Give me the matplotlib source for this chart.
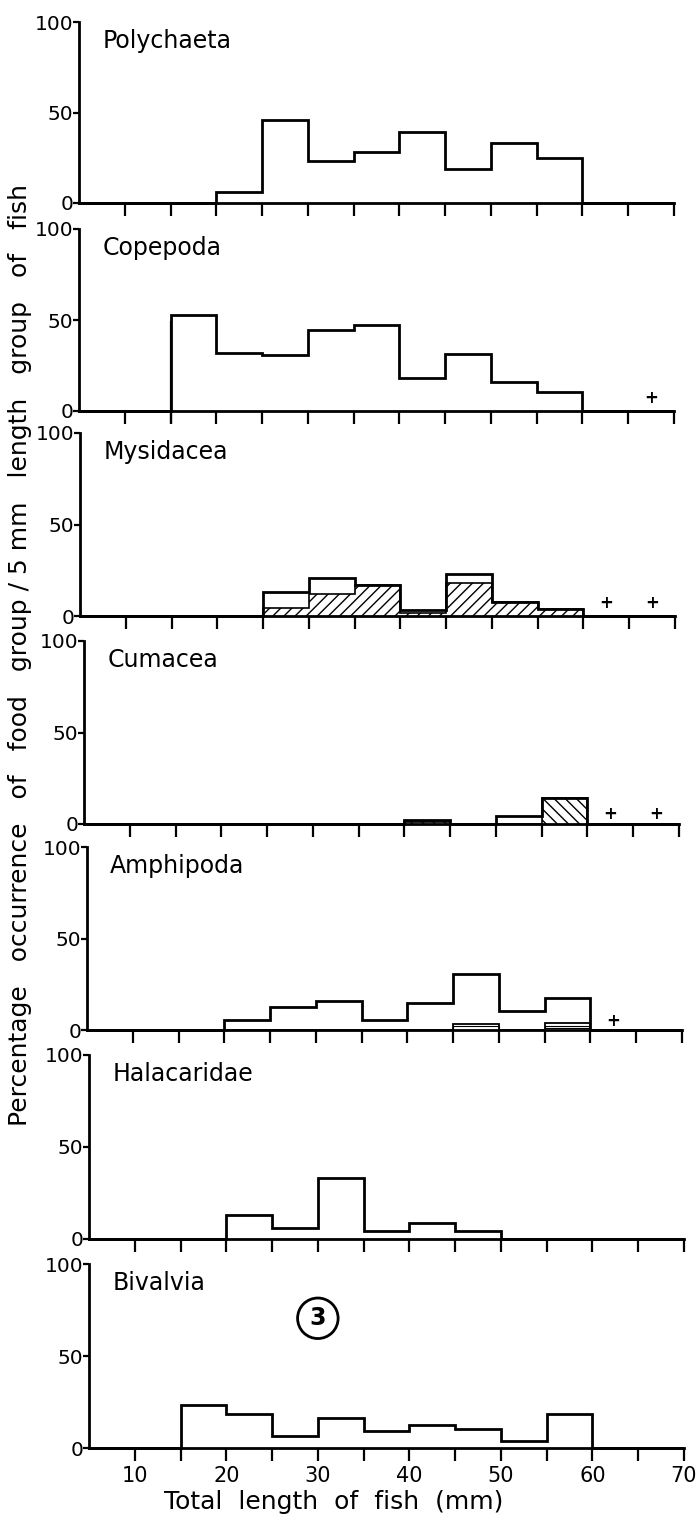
import numpy as np
import matplotlib
matplotlib.use("Agg")
import matplotlib.pyplot as plt

plt.rcParams['font.family'] = ['DejaVu Sans']
plt.rcParams['hatch.linewidth'] = 1.0

# 5 mm length groups of fish, 5..70 mm
edges = np.arange(5, 75, 5)

groups = ["Polychaeta", "Copepoda", "Mysidacea", "Cumacea",
          "Amphipoda", "Halacaridae", "Bivalvia"]

# percentage occurrence per length group (outline of each histogram)
polychaeta  = [0, 0, 0, 6, 46, 23, 28, 39, 19, 33, 25, 0, 0]
copepoda    = [0, 0, 53, 32, 31, 44.5, 47.5, 18, 31.5, 16, 10.5, 0, 0]
mysidacea   = [0, 0, 0, 0, 13, 21, 17, 3.3, 23, 7.7, 4, 0, 0]
cumacea     = [0, 0, 0, 0, 0, 0, 0, 2.2, 0, 4.4, 14, 0, 0]
amphipoda   = [0, 0, 0, 5.5, 12.4, 16, 5.5, 15, 30.5, 10.2, 17.3, 0, 0]
halacaridae = [0, 0, 0, 13.2, 6, 33, 4.3, 8.9, 4.3, 0, 0, 0, 0]
bivalvia    = [0, 0, 23.4, 18.7, 6.3, 16.3, 9.4, 12.7, 10.5, 3.6, 18.3, 0, 0]

# hatched sub-parts
mysidacea_hatched = [0, 0, 0, 0, 4.4, 12, 17, 1.5, 18, 7.7, 4, 0, 0]
cumacea_hatched   = [0, 0, 0, 0, 0, 0, 0, 1.2, 0, 0, 14, 0, 0]
# small inner boxes in Amphipoda
amphipoda_inner1 = [0, 0, 0, 0, 0, 0, 0, 0, 3.5, 0, 4, 0, 0]
amphipoda_inner2 = [0, 0, 0, 0, 0, 0, 0, 0, 2.3, 0, 2.3, 0, 0]
amphipoda_inner3 = [0, 0, 0, 0, 0, 0, 0, 0, 0, 0, 1, 0, 0]

# "+" = present in traces
plus_x = {"Copepoda": [67.5], "Mysidacea": [62.5, 67.5],
          "Cumacea": [62.5, 67.5], "Amphipoda": [62.5]}
plus_y = {"Copepoda": 7, "Mysidacea": 7, "Cumacea": 5.5, "Amphipoda": 5}

values = [polychaeta, copepoda, mysidacea, cumacea, amphipoda, halacaridae, bivalvia]

# panel layout in pixels (scan is slightly skewed)
W, H = 696, 1521
tops    = [22, 229, 433, 641, 847, 1055, 1264]
bottoms = [203, 411, 616, 824, 1030, 1239, 1448]
lefts   = [79, 79, 80, 84, 87, 89, 89]
width   = 595

LW = 2.0
fig = plt.figure(figsize=(W / 100, H / 100), dpi=100)

axes = []
for i, (name, vals) in enumerate(zip(groups, values)):
    ax = fig.add_axes([lefts[i] / W, 1 - bottoms[i] / H, width / W,
                       (bottoms[i] - tops[i]) / H])
    axes.append(ax)
    ax.set_xlim(5, 70)
    ax.set_ylim(0, 100)
    for s in ["top", "right"]:
        ax.spines[s].set_visible(False)
    for s in ["left", "bottom"]:
        ax.spines[s].set_linewidth(LW)

    if name == "Mysidacea":
        ax.stairs(mysidacea_hatched, edges, fill=True, facecolor="white",
                  edgecolor="black", hatch="///", lw=1.2, clip_on=False)
    if name == "Cumacea":
        ax.stairs(cumacea_hatched, edges, fill=True, facecolor="white",
                  edgecolor="black", hatch="\\\\\\", lw=1.2, clip_on=False)
    if name == "Amphipoda":
        ax.stairs(amphipoda_inner1, edges, color="black", lw=1.3, clip_on=False)
        ax.stairs(amphipoda_inner2, edges, color="black", lw=0.8, clip_on=False)
        ax.stairs(amphipoda_inner3, edges, color="black", lw=0.8, clip_on=False)

    ax.stairs(vals, edges, color="black", lw=LW, clip_on=False)

    if name == "Copepoda":
        # left edge of the first bar runs down past the axis in the original
        first = next(k for k, v in enumerate(vals) if v > 0)
        ax.plot([edges[first]] * 2, [-6, vals[first] * 0.92], color="black",
                lw=1.6, clip_on=False)

    if name in plus_x:
        for px in plus_x[name]:
            ax.text(px, plus_y[name], "+", ha="center", va="center",
                    fontsize=12, fontweight="bold")

    ax.text(0.039, 0.895, name, transform=ax.transAxes, ha="left",
            va="center", fontsize=17)

    ax.set_yticks([0, 50, 100])
    ax.set_yticklabels(["0", "50", "100"], fontsize=14.5)
    ax.set_xticks(np.arange(10, 75, 10))
    ax.set_xticks(np.arange(15, 70, 10), minor=True)
    ax.tick_params(axis="y", direction="out", length=4, width=1.6, pad=0)
    ax.tick_params(axis="x", which="both", direction="out", length=9,
                   width=1.6, pad=4)
    if i < len(groups) - 1:
        ax.set_xticklabels([])
    else:
        ax.set_xticklabels([str(t) for t in range(10, 75, 10)], fontsize=15)

# circled figure number
axes[-1].text(30, 70.5, "3", ha="center", va="center", fontsize=17,
              fontweight="bold",
              bbox=dict(boxstyle="circle,pad=0.35", fc="white", ec="black", lw=2))

fig.text(334 / W, 1 - 1502 / H, "Total  length  of  fish  (mm)",
         ha="center", va="center", fontsize=18)
fig.text(20 / W, 1 - 655 / H,
         "Percentage   occurrence   of   food   group / 5 mm   length   group   of   fish",
         rotation=90, ha="center", va="center", fontsize=18)

fig.savefig("out.png", dpi=100)
